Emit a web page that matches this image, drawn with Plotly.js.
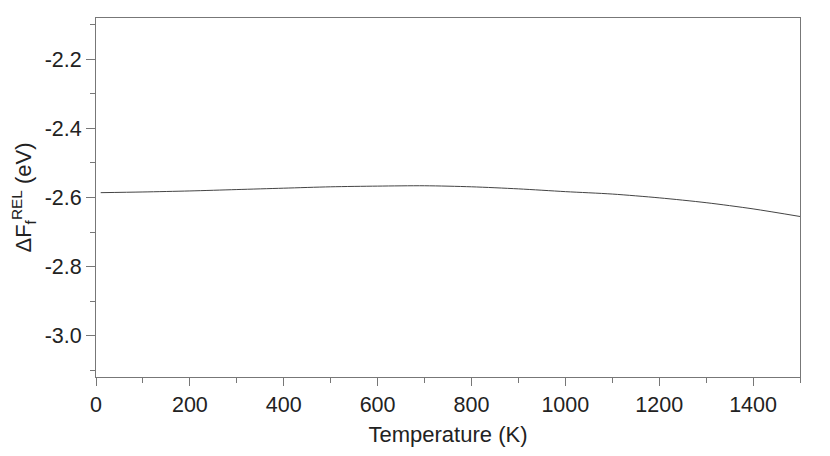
<!DOCTYPE html>
<html>
<head>
<meta charset="utf-8">
<script src="https://cdn.plot.ly/plotly-3.0.1.min.js"></script>
<style>
  body { margin: 0; background: #fff; }
  #chart { width: 830px; height: 456px; }
</style>
</head>
<body>
<div id="chart"></div>
<script>
// temperature (K) and relative formation free energy (eV)
var temperature = [10, 100, 200, 300, 400, 500, 600, 700, 800, 900, 1000, 1100, 1200, 1300, 1400, 1500];
var deltaF = [-2.586, -2.584, -2.581, -2.577, -2.573, -2.569, -2.567, -2.566, -2.569, -2.575, -2.583, -2.590, -2.601, -2.615, -2.633, -2.655];

var xTicks = [0, 200, 400, 600, 800, 1000, 1200, 1400];
var yTicks = [-3.0, -2.8, -2.6, -2.4, -2.2];
var yTickText = ['-3.0', '-2.8', '-2.6', '-2.4', '-2.2'];

var trace = {
  x: temperature,
  y: deltaF,
  type: 'scatter',
  mode: 'lines',
  line: { color: '#444444', width: 1, shape: 'spline', smoothing: 0.8 },
  hoverinfo: 'skip'
};

var tickFont = { family: 'Liberation Sans, Arial, sans-serif', size: 21.5, color: '#222' };
var titleFont = { family: 'Liberation Sans, Arial, sans-serif', size: 22, color: '#222' };

var layout = {
  width: 830,
  height: 456,
  margin: { l: 96, r: 30, t: 18, b: 79 },
  paper_bgcolor: '#fff',
  plot_bgcolor: '#fff',
  showlegend: false,
  font: tickFont,
  xaxis: {
    range: [0, 1500],
    tickvals: xTicks,
    ticks: 'outside',
    ticklen: 8,
    tickcolor: '#777',
    tickwidth: 1,
    showline: true,
    linecolor: '#777',
    linewidth: 1,
    mirror: true,
    showgrid: false,
    zeroline: false,
    tickfont: tickFont,
    minor: { dtick: 100, ticks: 'outside', ticklen: 5, tickcolor: '#777' },
    title: { text: 'Temperature (K)', font: titleFont, standoff: 10 }
  },
  yaxis: {
    range: [-3.12, -2.08],
    tickvals: yTicks,
    ticktext: yTickText,
    ticks: 'outside',
    ticklen: 9,
    tickcolor: '#777',
    tickwidth: 1,
    showline: true,
    linecolor: '#777',
    linewidth: 1,
    mirror: true,
    showgrid: false,
    zeroline: false,
    tickfont: tickFont,
    minor: { dtick: 0.1, tick0: -3.1, ticks: 'outside', ticklen: 5, tickcolor: '#777' },
    title: { text: '\u0394F<sub>f</sub><sup>REL</sup> (eV)', font: titleFont, standoff: 6 }
  }
};

Plotly.newPlot('chart', [trace], layout, { displayModeBar: false, staticPlot: true });
</script>
</body>
</html>
